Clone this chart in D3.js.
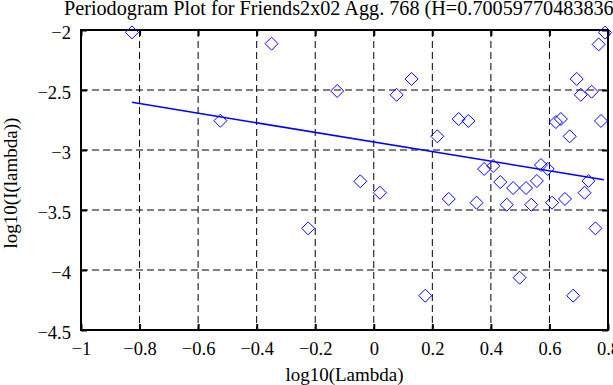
<!DOCTYPE html>
<html><head><meta charset="utf-8">
<script src="https://cdn.jsdelivr.net/npm/d3@7"></script>
<style>body{margin:0;background:#fff;} svg{display:block;} text{font-family:"Liberation Serif","Times New Roman",serif;fill:#000;}</style>
</head><body>
<svg id="c" width="613" height="385"></svg>
<script>
const titleText = "Periodogram Plot for Friends2x02 Agg. 768 (H=0.700597704838361)";
const xLabel = "log10(Lambda)";
const yLabel = "log10(I(lambda))";
const xTicks = [-1, -0.8, -0.6, -0.4, -0.2, 0, 0.2, 0.4, 0.6, 0.8];
const yTicks = [-2, -2.5, -3, -3.5, -4, -4.5];
const ptX = [-0.826,-0.524,-0.349,-0.224,-0.125,-0.046,0.021,0.078,0.129,0.176,0.217,0.256,0.290,0.323,0.351,0.377,0.408,0.432,0.454,0.476,0.498,0.520,0.538,0.557,0.571,0.594,0.609,0.622,0.639,0.653,0.669,0.681,0.693,0.707,0.720,0.733,0.744,0.757,0.768,0.776,0.790];
const ptY = [-2.02,-2.756,-2.114,-3.653,-2.508,-3.261,-3.356,-2.54,-2.408,-4.214,-2.886,-3.408,-2.742,-2.758,-3.439,-3.158,-3.133,-3.267,-3.456,-3.317,-4.064,-3.317,-3.456,-3.258,-3.125,-3.158,-3.439,-2.767,-2.742,-3.408,-2.886,-4.214,-2.408,-2.54,-3.356,-3.258,-2.514,-3.653,-2.12,-2.758,-2.022];
const fitX = [-0.826, 0.786];
const fitY = [-2.603, -3.248];

const svg = d3.select("#c");
const L = 81, R = 608, T = 30, B = 330;
const x = d3.scaleLinear().domain([-1, 0.8]).range([L, R]);
const y = d3.scaleLinear().domain([-4.5, -2]).range([B, T]);
const fmt = v => (v < 0 ? "\u2212" : "") + d3.format("")(Math.abs(v));

// grid
const g = svg.append("g");
g.selectAll("line.gx").data(xTicks.filter(v => v > -1 && v < 0.8)).join("line")
  .attr("x1", d => x(d)).attr("x2", d => x(d)).attr("y1", T).attr("y2", B)
  .attr("stroke", "#000").attr("stroke-width", 1).attr("stroke-dasharray", "7,4");
g.selectAll("line.gy").data(yTicks.filter(v => v < -2 && v > -4.5)).join("line")
  .attr("y1", d => y(d)).attr("y2", d => y(d)).attr("x1", L).attr("x2", R)
  .attr("stroke", "#000").attr("stroke-width", 1).attr("stroke-dasharray", "7,4");

// axes with inward ticks
const ax = (gen, tr) => svg.append("g").attr("transform", tr).call(gen)
  .call(s => s.select(".domain").remove())
  .call(s => s.selectAll(".tick line").attr("stroke", "#000").attr("stroke-width", 2));
const bottom = ax(d3.axisBottom(x).tickValues(xTicks).tickSize(-6).tickFormat(fmt), `translate(0,${B})`);
bottom.selectAll("text").attr("y", 12).attr("dy", "0.71em").style("font-size", "18.5px")
  .style("font-family", '"Liberation Serif",serif');
ax(d3.axisTop(x).tickValues(xTicks).tickSize(-6).tickFormat(""), `translate(0,${T})`);
const left = ax(d3.axisLeft(y).tickValues(yTicks).tickSize(-6).tickFormat(fmt), `translate(${L},0)`);
left.selectAll("text").attr("x", -10).attr("dy", "0.45em").style("font-size", "18.5px")
  .style("font-family", '"Liberation Serif",serif');
ax(d3.axisRight(y).tickValues(yTicks).tickSize(-6).tickFormat(""), `translate(${R},0)`);

// frame
svg.append("rect").attr("x", L).attr("y", T).attr("width", R - L).attr("height", B - T)
  .attr("fill", "none").attr("stroke", "#000").attr("stroke-width", 2);

// fit line
svg.append("path").datum(fitX.map((v, i) => [v, fitY[i]]))
  .attr("d", d3.line().x(d => x(d[0])).y(d => y(d[1])))
  .attr("stroke", "#0000ff").attr("stroke-width", 1.5).attr("fill", "none");

// diamonds
const s = 6.5;
svg.append("g").selectAll("path").data(ptX.map((v, i) => [v, ptY[i]])).join("path")
  .attr("d", d => { const cx = x(d[0]), cy = y(d[1]); return `M${cx},${cy-s}L${cx+s},${cy}L${cx},${cy+s}L${cx-s},${cy}Z`; })
  .attr("fill", "none").attr("stroke", "#0000ff").attr("stroke-width", 1);

// labels
svg.append("text").attr("x", 64).attr("y", 15).style("font-size", "20.2px").text(titleText);
svg.append("text").attr("x", (L + R) / 2).attr("y", 381).attr("text-anchor", "middle").style("font-size", "19px").text(xLabel);
svg.append("text").attr("transform", `translate(17,${(T + B) / 2 + 3}) rotate(-90)`).attr("text-anchor", "middle").style("font-size", "19px").text(yLabel);
</script>
</body></html>
